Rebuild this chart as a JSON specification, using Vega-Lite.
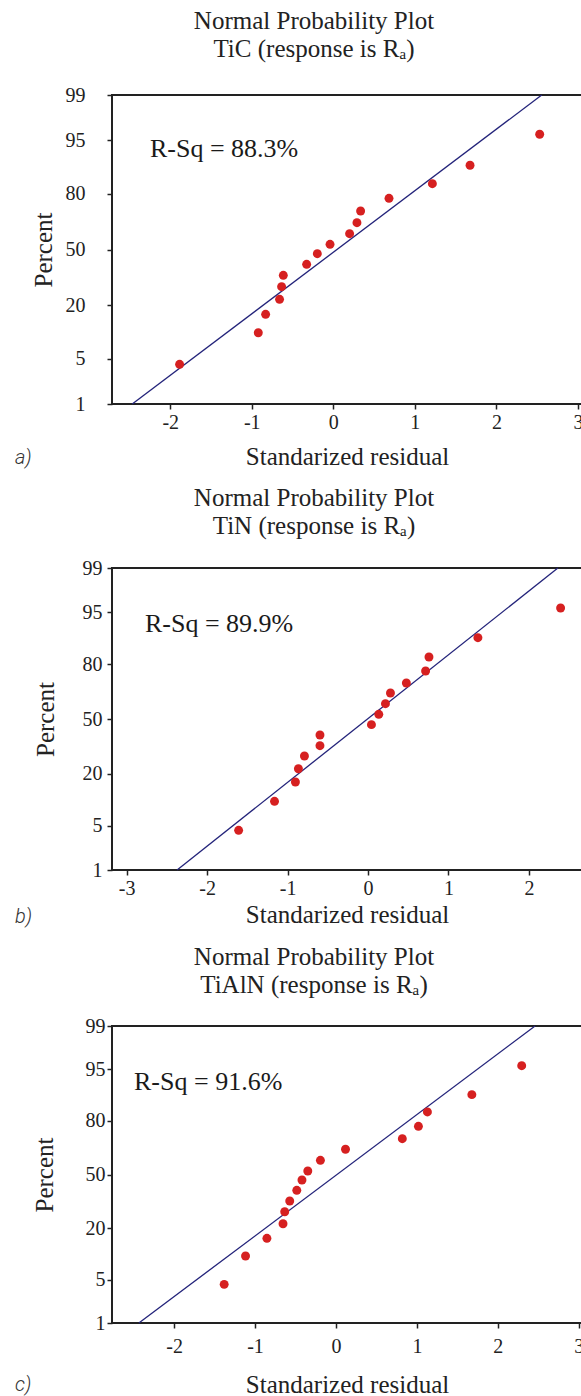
{
  "$schema": "https://vega.github.io/schema/vega-lite/v6.json",
  "background": "white",
  "padding": {"left": 13, "top": 8, "right": 0, "bottom": 0},
  "columns": 1,
  "align": "none",
  "bounds": "full",
  "spacing": 15,
  "datasets": {
    "tic": [
      {"residual": -1.885, "score": -1.729}, {"residual": -0.92, "score": -1.253}, {"residual": -0.83, "score": -0.976},
      {"residual": -0.659, "score": -0.75}, {"residual": -0.634, "score": -0.56}, {"residual": -0.613, "score": -0.389},
      {"residual": -0.327, "score": -0.223}, {"residual": -0.196, "score": -0.063}, {"residual": -0.04, "score": 0.078},
      {"residual": 0.2, "score": 0.238}, {"residual": 0.29, "score": 0.404}, {"residual": 0.335, "score": 0.58},
      {"residual": 0.683, "score": 0.771}, {"residual": 1.215, "score": 0.991}, {"residual": 1.677, "score": 1.268},
      {"residual": 2.531, "score": 1.735}
    ],
    "tic_fit": [{"residual": -2.466, "score": -2.3263}, {"residual": 2.556, "score": 2.3263}],
    "tin": [
      {"residual": -1.608, "score": -1.715}, {"residual": -1.162, "score": -1.268}, {"residual": -0.902, "score": -0.971},
      {"residual": -0.865, "score": -0.766}, {"residual": -0.79, "score": -0.57}, {"residual": -0.597, "score": -0.411},
      {"residual": -0.597, "score": -0.247}, {"residual": 0.043, "score": -0.087}, {"residual": 0.134, "score": 0.072},
      {"residual": 0.217, "score": 0.236}, {"residual": 0.279, "score": 0.401}, {"residual": 0.477, "score": 0.555},
      {"residual": 0.716, "score": 0.74}, {"residual": 0.758, "score": 0.955}, {"residual": 1.366, "score": 1.253},
      {"residual": 2.394, "score": 1.71}
    ],
    "tin_fit": [{"residual": -2.373, "score": -2.3263}, {"residual": 2.36, "score": 2.3263}],
    "tialn": [
      {"residual": -1.381, "score": -1.721}, {"residual": -1.117, "score": -1.277}, {"residual": -0.853, "score": -1.0},
      {"residual": -0.654, "score": -0.771}, {"residual": -0.633, "score": -0.583}, {"residual": -0.571, "score": -0.415},
      {"residual": -0.484, "score": -0.248}, {"residual": -0.42, "score": -0.086}, {"residual": -0.348, "score": 0.055},
      {"residual": -0.192, "score": 0.222}, {"residual": 0.118, "score": 0.395}, {"residual": 0.82, "score": 0.561},
      {"residual": 1.019, "score": 0.755}, {"residual": 1.13, "score": 0.98}, {"residual": 1.679, "score": 1.251},
      {"residual": 2.295, "score": 1.705}
    ],
    "tialn_fit": [{"residual": -2.435, "score": -2.3263}, {"residual": 2.46, "score": 2.3263}]
  },
  "concat": [
    {
      "width": 470, "height": 309,
      "title": {"text": "Normal Probability Plot", "subtitle": "TiC (response is Rₐ)", "dx": -33, "offset": 23},
      "layer": [
        {"data": {"name": "tic_fit"}, "mark": {"type": "line", "color": "#23237a", "strokeWidth": 1.3},
          "encoding": {
            "x": {"field": "residual", "type": "quantitative",
              "scale": {"domain": [-2.714, 3.05], "nice": false, "zero": false},
              "axis": {"title": "Standarized residual", "values": [-2, -1, 0, 1, 2, 3], "labelFlush": false,
                "labelExpr": "datum.value < 0 ? '-' + abs(datum.value) : '' + datum.value",
                "labelPadding": 3, "titlePadding": 12}},
            "y": {"field": "score", "type": "quantitative",
              "scale": {"domain": [-2.3263, 2.3263], "nice": false, "zero": false},
              "axis": {"title": "Percent", "values": [-2.3263, -1.6449, -0.8416, 0, 0.8416, 1.6449, 2.3263],
                "labelExpr": "datum.value < -2 ? '1' : datum.value < -1 ? '5' : datum.value < -0.5 ? '20' : datum.value < 0.5 ? '50' : datum.value < 1 ? '80' : datum.value < 2 ? '95' : '99'",
                "labelPadding": 22, "titlePadding": 9}}
          }},
        {"data": {"name": "tic"}, "mark": {"type": "circle", "color": "#d62020", "size": 80, "opacity": 1},
          "encoding": {"x": {"field": "residual", "type": "quantitative"}, "y": {"field": "score", "type": "quantitative"}}},
        {"data": {"values": [{"label": "R-Sq = 88.3%"}]},
          "mark": {"type": "text", "align": "left", "baseline": "middle", "font": "Liberation Serif", "fontSize": 26, "color": "#1a1a1a"},
          "encoding": {"x": {"datum": -2.248}, "y": {"datum": 1.513}, "text": {"field": "label", "type": "nominal"}}},
        {"data": {"values": [{"label": "a)"}]},
          "mark": {"type": "text", "align": "left", "baseline": "middle", "font": "Roboto", "fontStyle": "italic", "fontWeight": 300, "fontSize": 20, "color": "#333"},
          "encoding": {"x": {"datum": -3.904}, "y": {"datum": -3.14}, "text": {"field": "label", "type": "nominal"}}}
      ]
    },
    {
      "width": 470, "height": 302,
      "title": {"text": "Normal Probability Plot", "subtitle": "TiN (response is Rₐ)", "dx": -33, "offset": 19},
      "layer": [
        {"data": {"name": "tin_fit"}, "mark": {"type": "line", "color": "#23237a", "strokeWidth": 1.3},
          "encoding": {
            "x": {"field": "residual", "type": "quantitative",
              "scale": {"domain": [-3.182, 2.66], "nice": false, "zero": false},
              "axis": {"title": "Standarized residual", "values": [-3, -2, -1, 0, 1, 2], "labelFlush": false,
                "labelExpr": "datum.value < 0 ? '-' + abs(datum.value) : '' + datum.value",
                "labelPadding": 3, "titlePadding": 4}},
            "y": {"field": "score", "type": "quantitative",
              "scale": {"domain": [-2.3263, 2.3263], "nice": false, "zero": false},
              "axis": {"title": "Percent", "values": [-2.3263, -1.6449, -0.8416, 0, 0.8416, 1.6449, 2.3263],
                "labelExpr": "datum.value < -2 ? '1' : datum.value < -1 ? '5' : datum.value < -0.5 ? '20' : datum.value < 0.5 ? '50' : datum.value < 1 ? '80' : datum.value < 2 ? '95' : '99'",
                "labelPadding": 5, "titlePadding": 24}}
          }},
        {"data": {"name": "tin"}, "mark": {"type": "circle", "color": "#d62020", "size": 80, "opacity": 1},
          "encoding": {"x": {"field": "residual", "type": "quantitative"}, "y": {"field": "score", "type": "quantitative"}}},
        {"data": {"values": [{"label": "R-Sq = 89.9%"}]},
          "mark": {"type": "text", "align": "left", "baseline": "middle", "font": "Liberation Serif", "fontSize": 26, "color": "#1a1a1a"},
          "encoding": {"x": {"datum": -2.772}, "y": {"datum": 1.456}, "text": {"field": "label", "type": "nominal"}}},
        {"data": {"values": [{"label": "b)"}]},
          "mark": {"type": "text", "align": "left", "baseline": "middle", "font": "Roboto", "fontStyle": "italic", "fontWeight": 300, "fontSize": 20, "color": "#333"},
          "encoding": {"x": {"datum": -4.388}, "y": {"datum": -3.051}, "text": {"field": "label", "type": "nominal"}}}
      ]
    },
    {
      "width": 470, "height": 297,
      "title": {"text": "Normal Probability Plot", "subtitle": "TiAlN (response is Rₐ)", "dx": -33, "offset": 18},
      "layer": [
        {"data": {"name": "tialn_fit"}, "mark": {"type": "line", "color": "#23237a", "strokeWidth": 1.3},
          "encoding": {
            "x": {"field": "residual", "type": "quantitative",
              "scale": {"domain": [-2.767, 3.04], "nice": false, "zero": false},
              "axis": {"title": "Standarized residual", "values": [-2, -1, 0, 1, 2, 3], "labelFlush": false,
                "labelExpr": "datum.value < 0 ? '-' + abs(datum.value) : '' + datum.value",
                "labelPadding": 8, "titlePadding": 16}},
            "y": {"field": "score", "type": "quantitative",
              "scale": {"domain": [-2.3263, 2.3263], "nice": false, "zero": false},
              "axis": {"title": "Percent", "values": [-2.3263, -1.6449, -0.8416, 0, 0.8416, 1.6449, 2.3263],
                "labelExpr": "datum.value < -2 ? '1' : datum.value < -1 ? '5' : datum.value < -0.5 ? '20' : datum.value < 0.5 ? '50' : datum.value < 1 ? '80' : datum.value < 2 ? '95' : '99'",
                "labelPadding": 2, "titlePadding": 28}}
          }},
        {"data": {"name": "tialn"}, "mark": {"type": "circle", "color": "#d62020", "size": 80, "opacity": 1},
          "encoding": {"x": {"field": "residual", "type": "quantitative"}, "y": {"field": "score", "type": "quantitative"}}},
        {"data": {"values": [{"label": "R-Sq = 91.6%"}]},
          "mark": {"type": "text", "align": "left", "baseline": "middle", "font": "Liberation Serif", "fontSize": 26, "color": "#1a1a1a"},
          "encoding": {"x": {"datum": -2.495}, "y": {"datum": 1.45}, "text": {"field": "label", "type": "nominal"}}},
        {"data": {"values": [{"label": "c)"}]},
          "mark": {"type": "text", "align": "left", "baseline": "middle", "font": "Roboto", "fontStyle": "italic", "fontWeight": 300, "fontSize": 20, "color": "#333"},
          "encoding": {"x": {"datum": -3.966}, "y": {"datum": -3.3}, "text": {"field": "label", "type": "nominal"}}}
      ]
    }
  ],
  "config": {
    "view": {"stroke": "#222", "strokeWidth": 2},
    "axis": {"domain": false, "grid": false, "tickColor": "#222", "tickSize": 5, "tickWidth": 1.5, "labelOverlap": false,
      "labelFont": "Liberation Serif", "labelFontSize": 20, "labelColor": "#222",
      "titleFont": "Liberation Serif", "titleFontSize": 25, "titleFontWeight": "normal", "titleColor": "#222"},
    "title": {"font": "Liberation Serif", "fontSize": 25, "fontWeight": "normal", "color": "#222",
      "subtitleFont": "Liberation Serif", "subtitleFontSize": 25, "subtitleColor": "#222", "subtitlePadding": 3,
      "frame": "group", "anchor": "middle"}
  }
}
